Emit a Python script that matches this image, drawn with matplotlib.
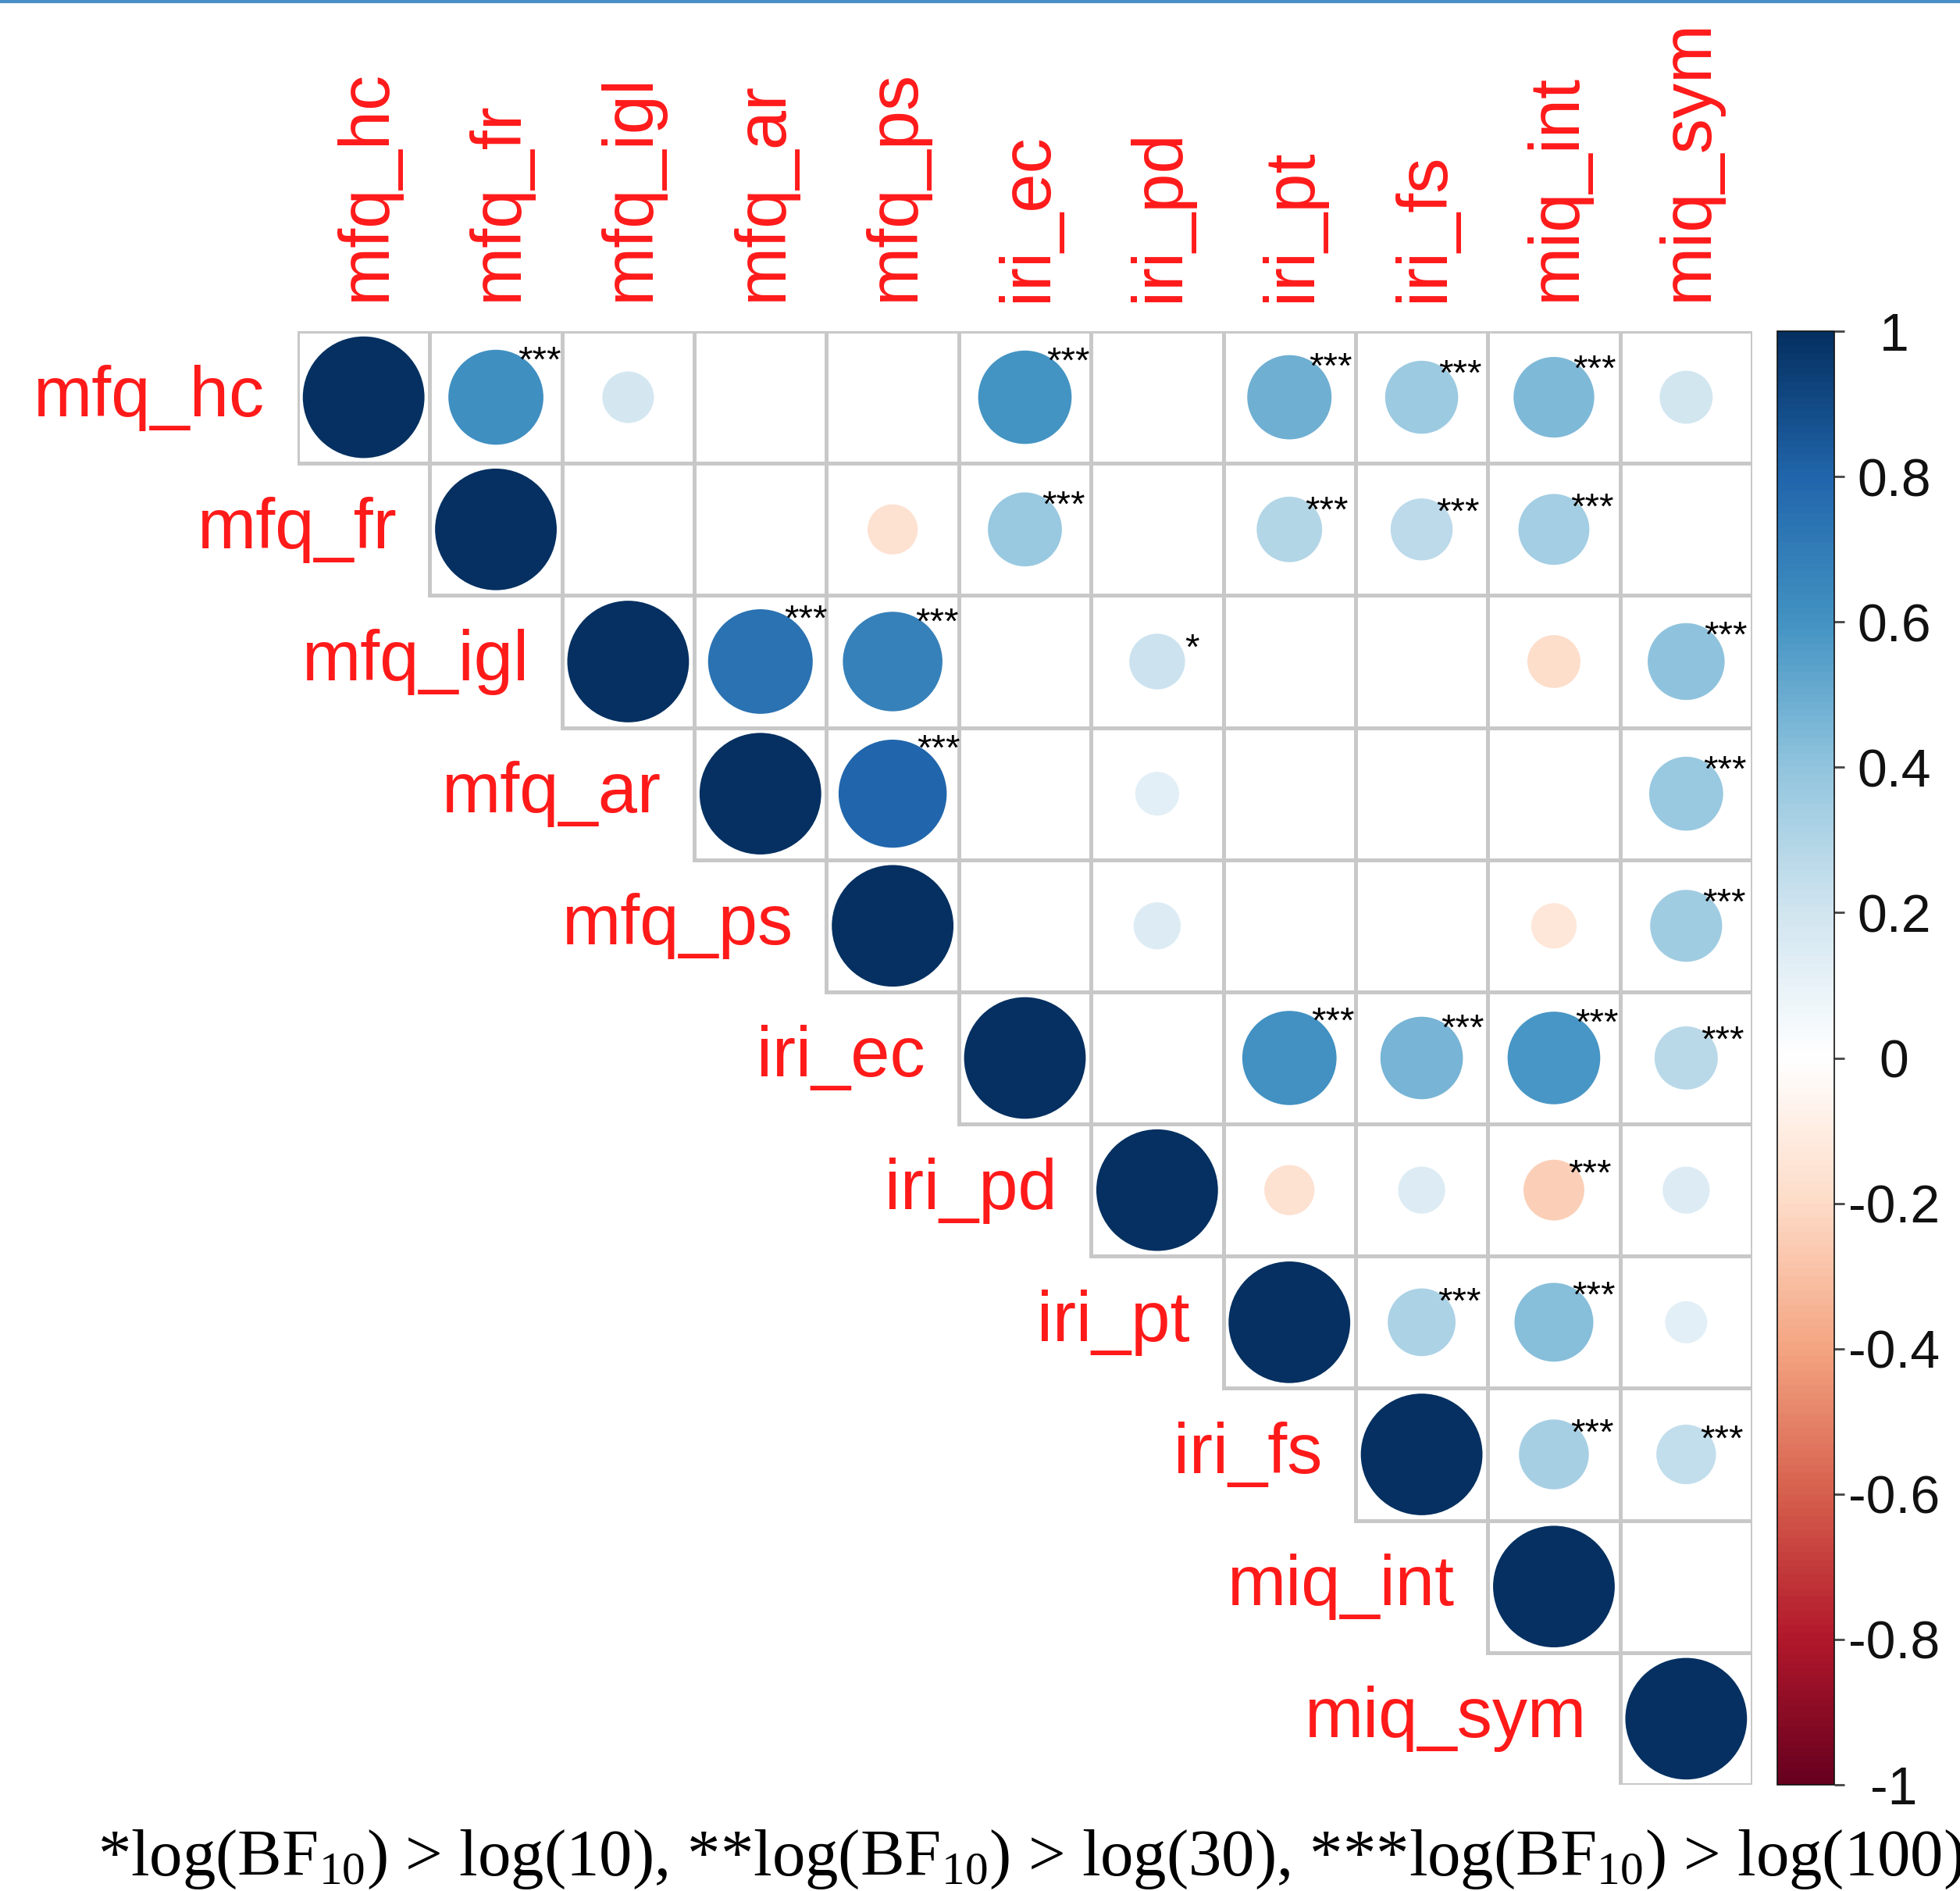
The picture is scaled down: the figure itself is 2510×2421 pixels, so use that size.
import numpy as np
import matplotlib
matplotlib.use("Agg")
import matplotlib.pyplot as plt
from matplotlib.colors import LinearSegmentedColormap, Normalize
from matplotlib.patches import Circle, Rectangle
from matplotlib.lines import Line2D
import matplotlib.cm as cm

plt.rcParams['mathtext.fontset'] = 'custom'
plt.rcParams['mathtext.rm'] = 'Liberation Serif'
plt.rcParams['mathtext.it'] = 'Liberation Serif:italic'

variables = ["mfq_hc", "mfq_fr", "mfq_igl", "mfq_ar", "mfq_ps", "iri_ec",
             "iri_pd", "iri_pt", "iri_fs", "miq_int", "miq_sym"]

# upper-triangle correlations (row i lists columns i..10); None = blank cell
corr_rows = [
    [1, 0.61, 0.18, None, None, 0.59, None, 0.48, 0.36, 0.44, 0.19],
    [1, None, None, -0.17, 0.37, None, 0.29, 0.26, 0.34, None],
    [1, 0.74, 0.67, None, 0.21, None, None, -0.19, 0.40],
    [1, 0.79, None, 0.13, None, None, None, 0.37],
    [1, None, 0.15, None, None, -0.14, 0.35],
    [1, None, 0.60, 0.46, 0.58, 0.27],
    [1, -0.17, 0.15, -0.25, 0.15],
    [1, 0.31, 0.42, 0.12],
    [1, 0.33, 0.24],
    [1, None],
    [1],
]

sig_rows = [
    ["", "***", "", "", "", "***", "", "***", "***", "***", ""],
    ["", "", "", "", "***", "", "***", "***", "***", ""],
    ["", "***", "***", "", "*", "", "", "", "***"],
    ["", "***", "", "", "", "", "", "***"],
    ["", "", "", "", "", "", "***"],
    ["", "", "***", "***", "***", "***"],
    ["", "", "", "***", ""],
    ["", "***", "***", ""],
    ["", "***", "***"],
    ["", ""],
    [""],
]

cbar_ticks = [-1, -0.8, -0.6, -0.4, -0.2, 0, 0.2, 0.4, 0.6, 0.8, 1]
cbar_ticklabels = ["-1", "-0.8", "-0.6", "-0.4", "-0.2", "0", "0.2", "0.4", "0.6", "0.8", "1"]
footer = (r"*log(BF$_{\mathrm{10}}$) > log(10), **log(BF$_{\mathrm{10}}$) > log(30), "
          r"***log(BF$_{\mathrm{10}}$) > log(100)")

rdbu = ["#67001F", "#B2182B", "#D6604D", "#F4A582", "#FDDBC7", "#FFFFFF",
        "#D1E5F0", "#92C5DE", "#4393C3", "#2166AC", "#053061"]
cmap = LinearSegmentedColormap.from_list("corrRdBu", rdbu, N=200)
norm = Normalize(-1, 1)

W, H = 2510, 2421
fig = plt.figure(figsize=(W / 100, H / 100), dpi=100)
fig.patch.set_facecolor("white")

gx0, gx1, gy0, gy1 = 381, 2244, 424, 2285
n = len(variables)
cell = (gx1 - gx0) / n
ax = fig.add_axes([gx0 / W, 1 - gy1 / H, (gx1 - gx0) / W, (gy1 - gy0) / H])
ax.set_xlim(0, n)
ax.set_ylim(n, 0)
ax.axis("off")

label_col = "#FF1A1A"
grid_col = "#C8C8C8"
px = 1.0 / cell  # one pixel in cell units
rmax = 0.46

for i in range(n):
    for k, val in enumerate(corr_rows[i]):
        j = i + k
        ax.add_patch(Rectangle((j, i), 1, 1, facecolor="none", edgecolor=grid_col,
                               linewidth=3.6, zorder=1))
for i in range(n):
    for k, val in enumerate(corr_rows[i]):
        j = i + k
        if val is None:
            continue
        cx, cy = j + 0.5, i + 0.5
        R = rmax * np.sqrt(abs(val))
        ax.add_patch(Circle((cx, cy), R, facecolor=cmap(norm(val)), edgecolor="none",
                            zorder=2))
        s = sig_rows[i][k]
        if s:
            sx = cx + 0.44 * R + 0.17
            sy = cy - (1.2 * R - 15 * px) + 25 * px
            ax.text(sx, sy, s, ha="center", va="baseline", fontsize=34,
                    family="Liberation Sans", color="black", zorder=3, clip_on=False)

for i, name in enumerate(variables):
    # row labels
    ax.text(i - 43 * px, i + 0.5 + 24 * px, name, ha="right", va="baseline",
            fontsize=65, family="Liberation Sans", color=label_col, clip_on=False)
    # column labels
    ax.text(i + 0.5 + 27 * px, -38 * px, name, ha="left", va="baseline",
            rotation=90, rotation_mode="anchor", fontsize=65,
            family="Liberation Sans", color=label_col, clip_on=False)

# colorbar
cb_x0, cb_x1 = 2276, 2349
cax = fig.add_axes([cb_x0 / W, 1 - gy1 / H, (cb_x1 - cb_x0) / W, (gy1 - gy0) / H])
sm = cm.ScalarMappable(norm=norm, cmap=cmap)
cb = fig.colorbar(sm, cax=cax, ticks=cbar_ticks)
cb.ax.set_yticklabels(cbar_ticklabels)
cb.outline.set_edgecolor("#111111")
cb.outline.set_linewidth(1.2)
cb.ax.tick_params(axis="y", length=9, width=2, color="#444444", pad=46,
                  labelsize=49, labelcolor="#111111")
for lab in cb.ax.get_yticklabels():
    lab.set_ha("center")
    lab.set_family("Liberation Sans")

# footer
fig.text(125 / W, 1 - 2401 / H, footer, ha="left", va="baseline", fontsize=61,
         family="Liberation Serif", color="black")

# thin blue line at top edge
fig.add_artist(Line2D([0, 1], [1 - 2 / H, 1 - 2 / H], color="#4A90C8", linewidth=3,
                      transform=fig.transFigure))

fig.savefig("out.png", dpi=100, facecolor="white")
